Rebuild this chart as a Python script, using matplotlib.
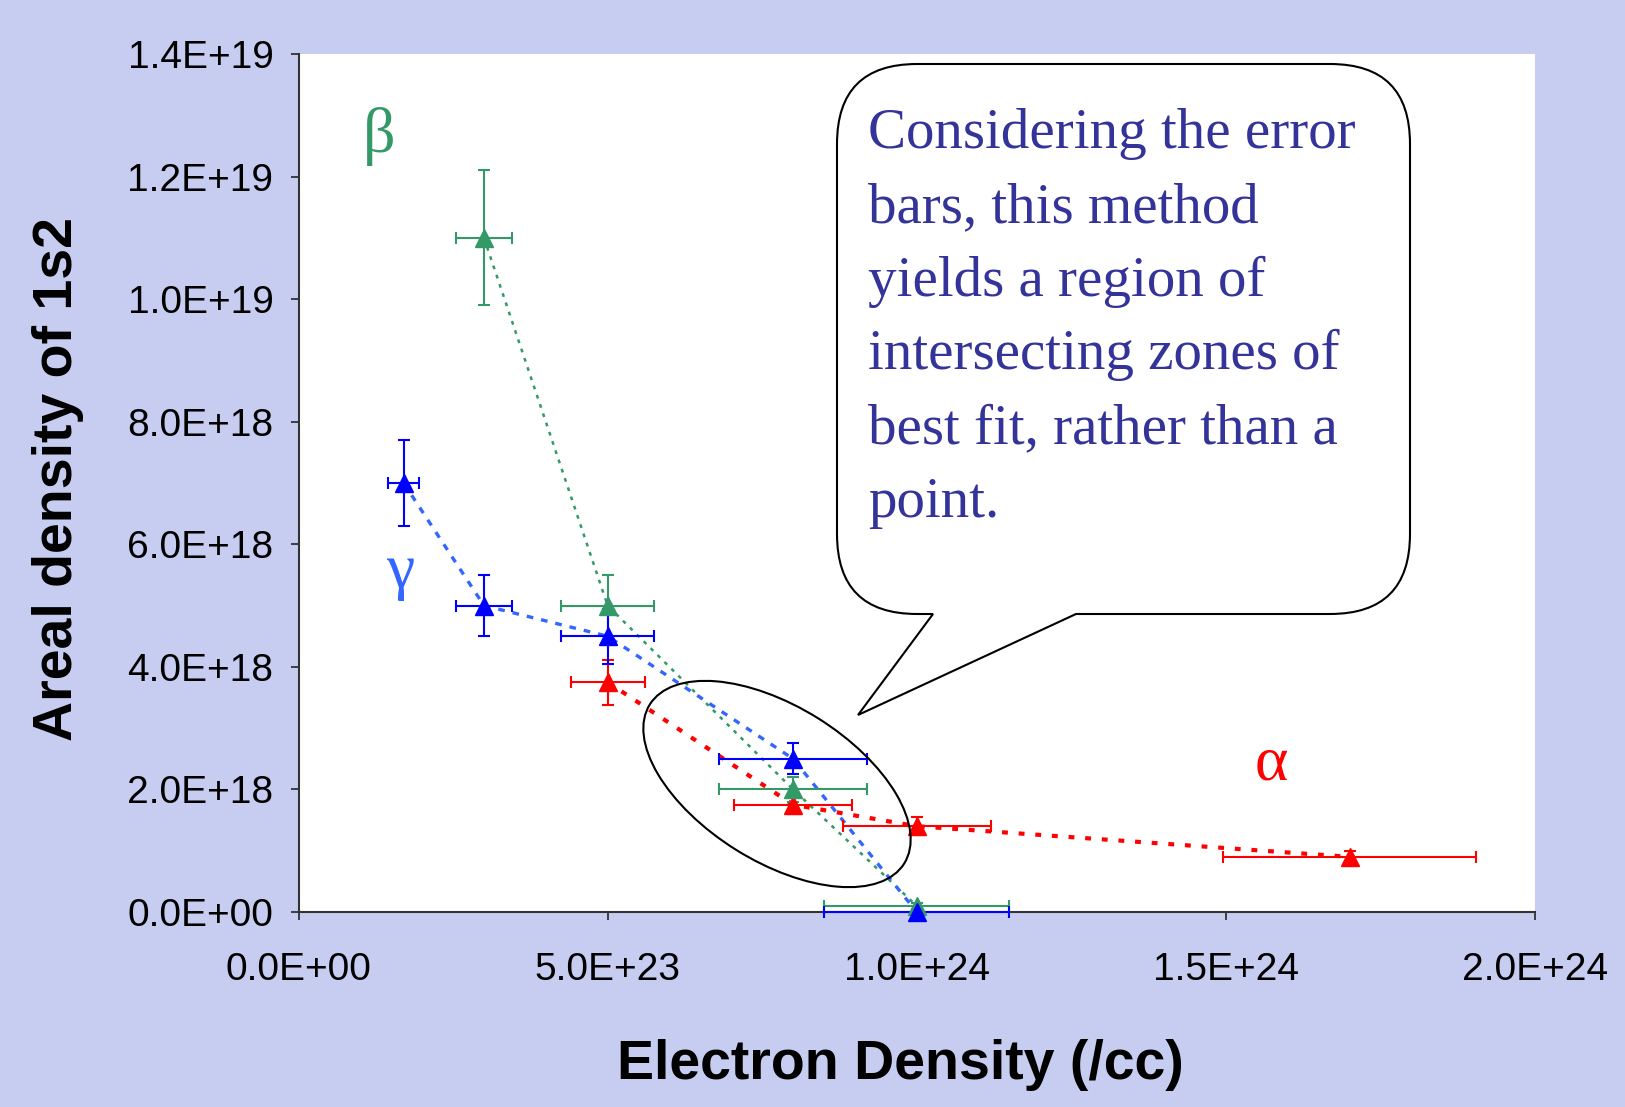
import matplotlib
matplotlib.use("Agg")
import matplotlib.pyplot as plt
from matplotlib.path import Path
from matplotlib.patches import PathPatch, Ellipse

# ---- data ----
alpha_x = [5e23, 8e23, 1e24, 1.7e24]
alpha_y = [3.75e18, 1.75e18, 1.4e18, 0.9e18]
alpha_xerr = [0.6e23, 0.95e23, 1.2e23, 2.05e23]
alpha_yerr = [0.37e18, 0.15e18, 0.15e18, 0.1e18]

beta_x = [3e23, 5e23, 8e23, 1e24]
beta_y = [1.1e19, 5.0e18, 2.0e18, 0.1e18]
beta_xerr = [0.46e23, 0.75e23, 1.2e23, 1.5e23]
beta_yerr = [1.1e18, 0.5e18, 0.2e18, 0.05e18]

gamma_x = [1.7e23, 3e23, 5e23, 8e23, 1e24]
gamma_y = [7.0e18, 5.0e18, 4.5e18, 2.5e18, 0.0]
gamma_xerr = [0.255e23, 0.46e23, 0.75e23, 1.2e23, 1.5e23]
gamma_yerr = [0.7e18, 0.5e18, 0.45e18, 0.25e18, 0.0]

xticks = [0, 5e23, 1e24, 1.5e24, 2e24]
xticklabels = ["0.0E+00", "5.0E+23", "1.0E+24", "1.5E+24", "2.0E+24"]
yticks = [0, 2e18, 4e18, 6e18, 8e18, 1e19, 1.2e19, 1.4e19]
yticklabels = ["0.0E+00", "2.0E+18", "4.0E+18", "6.0E+18", "8.0E+18",
               "1.0E+19", "1.2E+19", "1.4E+19"]

callout_lines = ["Considering the error", "bars, this method",
                 "yields a region of", "intersecting zones of",
                 "best fit, rather than a", "point."]

W, H = 1625, 1107
fig = plt.figure(figsize=(W / 100, H / 100), dpi=100)
fig.patch.set_facecolor("#c7cdf0")

ax = fig.add_axes([298.5 / W, 1 - 912 / H, (1535 - 298.5) / W, (912 - 54) / H])
ax.set_facecolor("white")
for s in ["top", "right"]:
    ax.spines[s].set_visible(False)
for s in ["left", "bottom"]:
    ax.spines[s].set_color("#333333")
    ax.spines[s].set_linewidth(1.5)

RED, GREEN, BLUE, LBLUE = "#ff0000", "#339966", "#0000ff", "#3366ff"

# lines
ax.plot(alpha_x, alpha_y, color=RED, lw=3, ls=(0, (1.4, 2.6)), zorder=2)
ax.plot(beta_x, beta_y, color=GREEN, lw=1.8, ls=(0, (1.5, 2.4)), zorder=2)
ax.plot(gamma_x, gamma_y, color=LBLUE, lw=2.4, ls=(0, (2, 2.4)), zorder=2)

for xs, ys, xe, ye, c in [(alpha_x, alpha_y, alpha_xerr, alpha_yerr, RED),
                          (beta_x, beta_y, beta_xerr, beta_yerr, GREEN),
                          (gamma_x, gamma_y, gamma_xerr, gamma_yerr, BLUE)]:
    eb = ax.errorbar(xs, ys, xerr=xe, yerr=ye, fmt="none", ecolor=c,
                     elinewidth=1.5, capsize=4.5, capthick=1.5, zorder=3)
    for art in eb.lines[1] + eb.lines[2]:
        art.set_clip_on(False)
    ax.plot(xs, ys, ls="none", marker="^", ms=13, color=c, zorder=4,
            clip_on=False)

ax.set_xlim(0, 2e24)
ax.set_ylim(0, 1.4e19)
ax.set_xticks(xticks)
ax.set_xticklabels(xticklabels)
ax.set_yticks(yticks)
ax.set_yticklabels(yticklabels)
ax.tick_params(axis="both", direction="out", length=6, width=1.3,
               color="#333333", labelsize=28, labelcolor="black")
ax.tick_params(axis="x", pad=23)
ax.tick_params(axis="y", pad=12)
for lbl in ax.get_xticklabels() + ax.get_yticklabels():
    lbl.set_family("Liberation Sans")

# overlay in pixel coordinates for annotations
ov = fig.add_axes([0, 0, 1, 1], zorder=10)
ov.set_xlim(0, W)
ov.set_ylim(H, 0)
ov.axis("off")
ov.patch.set_alpha(0)

fig.text(58 / W, 1 - 479 / H, "Areal density of 1s2", rotation=90,
         ha="center", va="center", fontsize=40, fontweight="bold",
         family="Liberation Sans")
fig.text(900 / W, 1 - 1065 / H, "Electron Density (/cc)", ha="center",
         va="center", fontsize=40, fontweight="bold", family="Liberation Sans")

# callout bubble
L, T, R, B, r = 837, 64, 1410, 614, 80
verts = [(L + r, T), (R - r, T), (R, T), (R, T + r), (R, B - r), (R, B),
         (R - r, B), (1076, B), (858, 715), (933, B), (L + r, B), (L, B),
         (L, B - r), (L, T + r), (L, T), (L + r, T), (L + r, T)]
codes = [Path.MOVETO, Path.LINETO, Path.CURVE3, Path.CURVE3, Path.LINETO,
         Path.CURVE3, Path.CURVE3, Path.LINETO, Path.LINETO, Path.LINETO,
         Path.LINETO, Path.CURVE3, Path.CURVE3, Path.LINETO, Path.CURVE3,
         Path.CURVE3, Path.CLOSEPOLY]
ov.add_patch(PathPatch(Path(verts, codes), facecolor="white",
                       edgecolor="black", lw=1.5))

for i, line in enumerate(callout_lines):
    ov.text(868, 148 + i * 73.8, line, ha="left", va="baseline",
            fontsize=41, color="#333399", family="Liberation Serif")

# ellipse
ov.add_patch(Ellipse((777, 784), 300, 155, angle=32, facecolor="none",
                     edgecolor="black", lw=1.5))

# greek labels
ov.text(379, 137, "β", color=GREEN, fontsize=46, family="Liberation Serif",
        ha="center", va="center")
ov.text(400, 572, "γ", color=LBLUE, fontsize=46, family="Liberation Serif",
        ha="center", va="center")
ov.text(1271, 765, "α", color=RED, fontsize=46, family="Liberation Serif",
        ha="center", va="center")

fig.savefig("out.png", dpi=100, facecolor=fig.get_facecolor())
